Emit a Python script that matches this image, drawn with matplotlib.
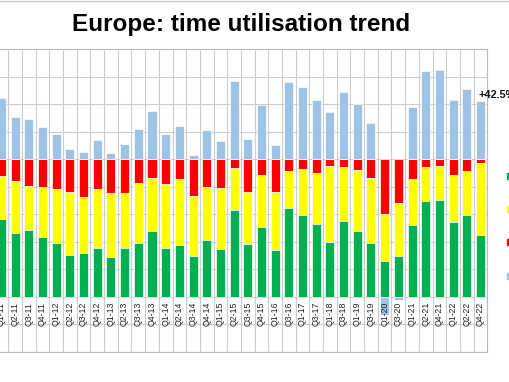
import numpy as np
import matplotlib
matplotlib.use("Agg")
import matplotlib.pyplot as plt
import matplotlib.patches as patches
from matplotlib.lines import Line2D

plt.rcParams['font.family'] = ['Liberation Sans', 'DejaVu Sans']

## Quarter labels as shown under the bars
quarters = ['Q1-11', 'Q2-11', 'Q3-11', 'Q4-11', 'Q1-12', 'Q2-12', 'Q3-12', 'Q4-12',
            'Q1-13', 'Q2-13', 'Q3-13', 'Q4-13', 'Q1-14', 'Q2-14', 'Q3-14', 'Q4-14',
            'Q1-15', 'Q2-15', 'Q3-15', 'Q4-15', 'Q1-16', 'Q3-16', 'Q1-17', 'Q3-17',
            'Q1-18', 'Q3-18', 'Q1-19', 'Q3-19', 'Q1-20', 'Q3-20', 'Q1-21', 'Q2-21',
            'Q4-21', 'Q1-22', 'Q2-22', 'Q4-22']

## Shares of time [%] (green + yellow + red = 100)
green = [56.4, 46.6, 48.6, 43.5, 39.4, 30.6, 32.1, 35.5, 29.2, 35.3, 39.1, 48.1,
         35.7, 37.9, 29.7, 41.1, 34.5, 63.4, 38.6, 50.8, 34.0, 64.6, 59.3, 52.7,
         40.1, 54.9, 48.1, 39.4, 25.8, 29.7, 52.2, 69.5, 70.2, 54.6, 59.5, 44.9]
yellow = [31.5, 37.9, 32.2, 36.1, 39.0, 45.4, 40.7, 42.9, 46.1, 40.4, 43.7, 38.3,
          46.6, 48.0, 43.6, 39.0, 44.4, 30.3, 37.6, 37.8, 42.5, 27.1, 33.4, 37.3,
          54.8, 39.3, 44.1, 47.0, 34.4, 38.7, 33.5, 24.9, 24.9, 34.0, 32.0, 52.2]
red = [12.1, 15.5, 19.2, 20.4, 21.6, 24.0, 27.2, 21.6, 24.7, 24.3, 17.2, 13.6,
       17.7, 14.1, 26.7, 19.9, 21.1, 6.3, 23.8, 11.4, 23.5, 8.3, 7.3, 10.0,
       5.1, 5.8, 7.8, 13.6, 39.8, 31.6, 14.3, 5.6, 4.9, 11.4, 8.5, 2.9]
## Trend [%]
blue = [44.4, 31.0, 29.5, 23.5, 18.4, 7.3, 5.3, 14.0, 4.8, 11.1, 22.0, 34.9,
        18.4, 24.2, 2.9, 21.5, 13.5, 56.9, 15.0, 39.5, 10.6, 56.4, 52.4, 43.1,
        34.6, 48.9, 40.5, 26.2, -13.3, -2.0, 38.3, 64.0, 64.9, 43.1, 51.1, 42.5]

c_green, c_yellow, c_red, c_blue = '#00B050', '#FFFF00', '#FF0000', '#9DC3E6'

x = np.arange(len(quarters))
g, yl, r, b = map(np.array, (green, yellow, red, blue))

fig = plt.figure(figsize=(5.1, 3.82), dpi=100)
ax = fig.add_axes([-5.4/510, 1-352/382, 492.7/510, (352-49.3)/382])

w = 0.66
# stacked downwards from the zero line
ax.bar(x, -r, bottom=0, width=w, color=c_red, edgecolor='white', linewidth=0.5, zorder=2)
ax.bar(x, -yl, bottom=-r, width=w, color=c_yellow, edgecolor='white', linewidth=0.5, zorder=2)
ax.bar(x, -g, bottom=-r-yl, width=w, color=c_green, edgecolor='white', linewidth=0.5, zorder=2)
# trend: positive above zero, negative below the 100% stack
ax.bar(x, b, bottom=np.where(b >= 0, 0, -100), width=w, color=c_blue,
       edgecolor='white', linewidth=0.5, zorder=2)

for xi, lab in zip(x, quarters):
    ax.text(xi, -103.5, lab, rotation=90, ha='center', va='top', fontsize=6.3,
            color='#222222', zorder=3)

ax.text(x[-1] - 0.17, b[-1] + 4, '+%.1f%%' % b[-1], ha='left', va='center',
        fontsize=7.8, fontweight='bold', color='#111111', clip_on=False)

ax.set_xlim(-0.5, len(x) - 0.5)
ax.set_ylim(-140, 80)
ax.set_xticks(np.arange(-0.5, len(x), 1))
ax.set_yticks(np.arange(-140, 81, 20))
ax.tick_params(length=0, labelbottom=False, labelleft=False)
ax.grid(True, color='#cccccc', linewidth=0.8, zorder=0)
ax.set_axisbelow(True)
for s in ax.spines.values():
    s.set_color('#bbbbbb')
    s.set_linewidth(0.8)

fig.text(241/510, 1-24/382, 'Europe: time utilisation trend', ha='center', va='center',
         fontsize=17.5, fontweight='bold')
fig.add_artist(Line2D([0, 1], [1-1.2/382, 1-1.2/382], color='#cccccc', linewidth=1))

# legend keys (labels lie outside the visible area)
for yc, col in zip([176, 209.5, 242.3, 276], [c_green, c_yellow, c_red, c_blue]):
    fig.patches.append(patches.Rectangle((506.7/510, 1-(yc+3)/382), 6/510, 6/382,
                                         transform=fig.transFigure, color=col))

plt.savefig('out.png', dpi=100)
